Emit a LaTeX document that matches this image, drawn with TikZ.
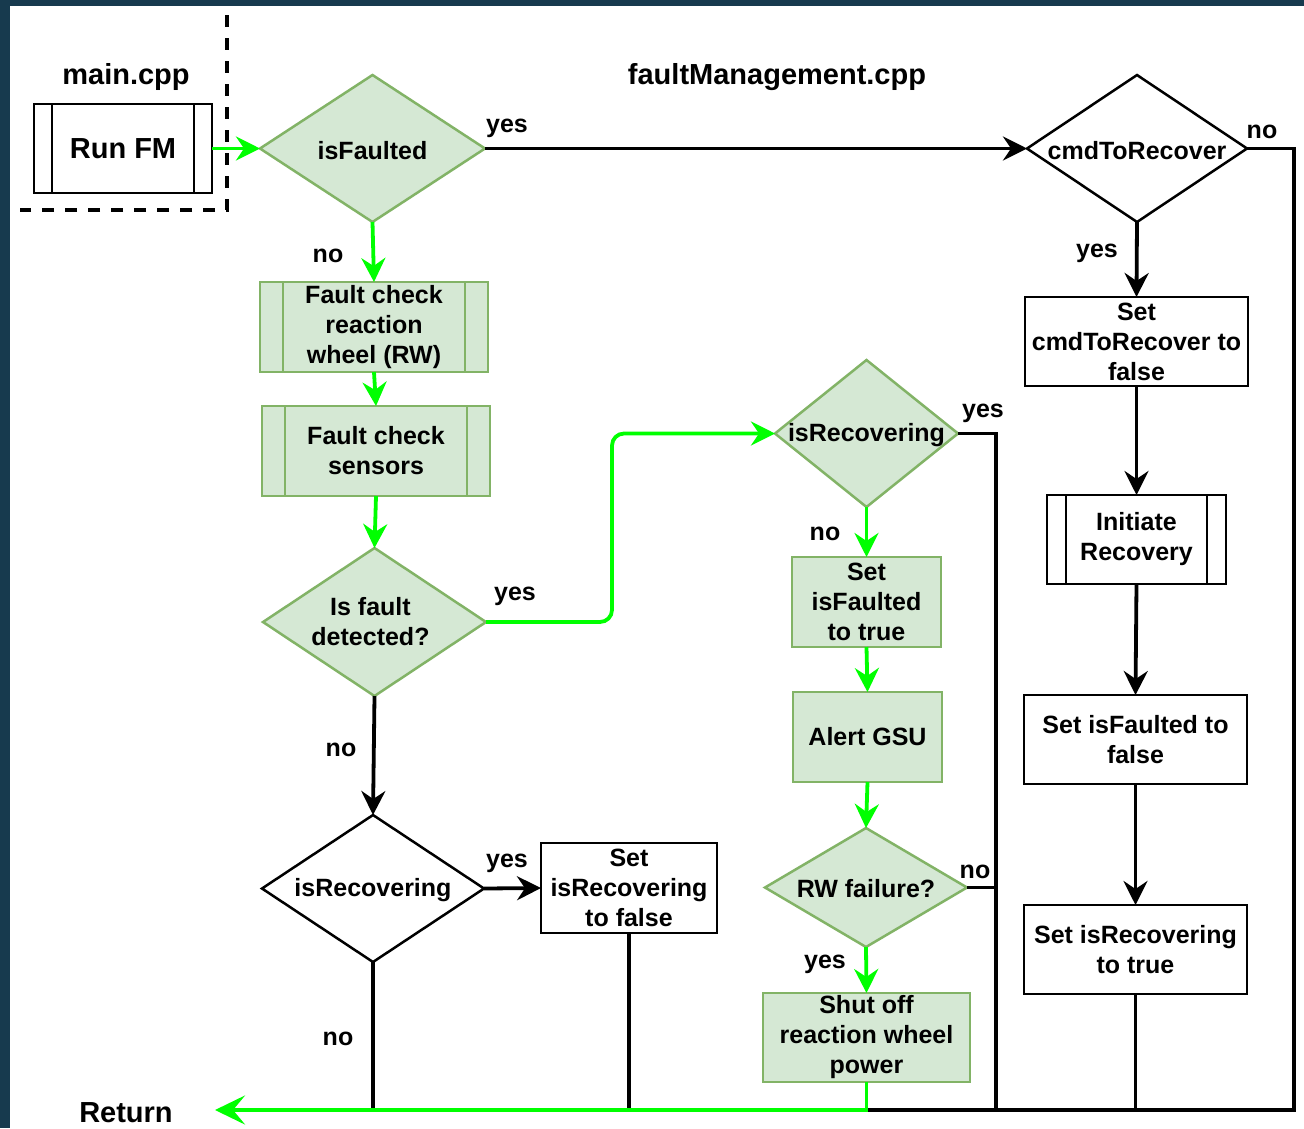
\documentclass[tikz,border=0pt]{standalone}
\usepackage{fontspec}
\setmainfont{Liberation Sans}
\usetikzlibrary{shapes.geometric,arrows.meta,calc}
\definecolor{bgdark}{HTML}{173A4E}
\definecolor{gfill}{HTML}{D5E8D4}
\definecolor{gline}{HTML}{82B366}
\definecolor{neon}{HTML}{00FF00}
\begin{document}
\begin{tikzpicture}[x=1pt,y=-1pt,
  txt/.style={font=\fontsize{25}{30}\selectfont\bfseries, align=center, inner sep=0pt, text=black},
  big/.style={font=\fontsize{29}{34}\selectfont\bfseries, inner sep=0pt, text=black, yshift=-2pt},
  wbox/.style={draw=black, fill=white, line width=2.5pt, rectangle, inner sep=0pt, outer sep=0pt, txt},
  gbox/.style={draw=gline, fill=gfill, line width=2.5pt, rectangle, inner sep=0pt, outer sep=0pt, txt},
  wdia/.style={draw=black, fill=white, diamond, line width=2.5pt, inner sep=0pt, outer sep=0pt},
  gdia/.style={draw=gline, fill=gfill, diamond, line width=2.5pt, inner sep=0pt, outer sep=0pt},
  dtxt/.style={txt, yshift=-2pt},
  blk/.style={draw=black, line width=3.8pt},
  grn/.style={draw=neon, line width=3.8pt},
  arrowsm/.style={-{Stealth[length=24pt,width=24pt,inset=8pt]}},
  arrowbig/.style={-{Stealth[length=30pt,width=29pt,inset=12pt]}},
  lbl/.style={txt, yshift=-3pt},
  barw/.style={draw=black, line width=2.5pt},
  barg/.style={draw=gline, line width=2.5pt},
]
\useasboundingbox (0,0) rectangle (1304,1128);
\fill[bgdark] (0,0) rectangle (1304,1128);
\fill[white] (10,6) rectangle (1304,1128);

% dashed boundary
\draw[line width=4pt, dash pattern=on 12pt off 11pt] (227,15) -- (227,210) -- (20,210);

% titles
\node[big] (tmain) at (126,75) {main.cpp};
\node[big] (tfm) at (777,75) {faultManagement.cpp};
\node[big] (retlbl) at (126,1111) {Return};

% nodes
\node[wbox, minimum width=178pt, minimum height=89pt, font=\fontsize{29}{34}\selectfont\bfseries] (run) at (123,148.5) {Run FM};
\draw[barw] ([xshift=18pt]run.north west) -- ([xshift=18pt]run.south west);
\draw[barw] ([xshift=-18pt]run.north east) -- ([xshift=-18pt]run.south east);

\node[gdia, minimum width=225pt, minimum height=147pt, label={[dtxt]center:isFaulted}] (isf) at (372.5,148.5) {};
\node[wdia, minimum width=220pt, minimum height=147pt, label={[dtxt]center:cmdToRecover}] (cmd) at (1137,148.5) {};

\node[gbox, minimum width=228pt, minimum height=90pt] (rw) at (374,327) {Fault check\\reaction\\wheel (RW)};
\draw[barg] ([xshift=23pt]rw.north west) -- ([xshift=23pt]rw.south west);
\draw[barg] ([xshift=-23pt]rw.north east) -- ([xshift=-23pt]rw.south east);

\node[gbox, minimum width=228pt, minimum height=90pt] (sens) at (376,451) {Fault check\\sensors};
\draw[barg] ([xshift=23pt]sens.north west) -- ([xshift=23pt]sens.south west);
\draw[barg] ([xshift=-23pt]sens.north east) -- ([xshift=-23pt]sens.south east);

\node[gdia, minimum width=223pt, minimum height=148pt, label={[txt, xshift=-4pt]center:Is fault\\detected?}] (det) at (374.5,622) {};

\node[wdia, minimum width=222pt, minimum height=147pt, label={[dtxt]center:isRecovering}] (rec2) at (373,888.5) {};
\node[wbox, minimum width=176pt, minimum height=90pt] (sirf) at (629,888) {Set\\isRecovering\\to false};

\node[gdia, minimum width=183pt, minimum height=147pt, label={[dtxt]center:isRecovering}] (rec1) at (866.5,433.5) {};
\node[gbox, minimum width=149pt, minimum height=90pt] (sift) at (866.5,602) {Set\\isFaulted\\to true};
\node[gbox, minimum width=149pt, minimum height=90pt] (alert) at (867.5,737) {Alert GSU};
\node[gdia, minimum width=202pt, minimum height=119pt, label={[txt, yshift=-1pt]center:RW failure?}] (rwf) at (866,887.5) {};
\node[gbox, minimum width=207pt, minimum height=89pt] (shut) at (866.5,1037.5) {Shut off\\reaction wheel\\power};

\node[wbox, minimum width=223pt, minimum height=89pt] (scf) at (1136.5,341.5) {Set\\cmdToRecover to\\false};
\node[wbox, minimum width=179pt, minimum height=89pt] (init) at (1136.5,539.5) {Initiate\\Recovery};
\draw[barw] ([xshift=19pt]init.north west) -- ([xshift=19pt]init.south west);
\draw[barw] ([xshift=-19pt]init.north east) -- ([xshift=-19pt]init.south east);
\node[wbox, minimum width=223pt, minimum height=89pt] (sifa) at (1135.5,739.5) {Set isFaulted to\\false};
\node[wbox, minimum width=223pt, minimum height=89pt] (sirt) at (1135.5,949.5) {Set isRecovering\\to true};

% labels
\node[lbl] (l1) at (507,125) {yes};
\node[lbl] (l2) at (1262,129) {no};
\node[lbl] (l3) at (328,253) {no};
\node[lbl] (l4) at (1097,250) {yes};
\node[lbl] (l5) at (983,410) {yes};
\node[lbl] (l6) at (515,593) {yes};
\node[lbl] (l7) at (825,531) {no};
\node[lbl] (l8) at (341,747) {no};
\node[lbl] (l9) at (507,860) {yes};
\node[lbl] (l10) at (975,869) {no};
\node[lbl] (l11) at (825,961) {yes};
\node[lbl] (l12) at (338,1036) {no};

% coordinates
\coordinate (cR) at (1294,1110);
\coordinate (cM) at (996,1110);
\coordinate (retpt) at (215,1110);

% black connectors
\draw[blk, arrowsm] (isf.east) -- (cmd.west);
\draw[blk, arrowsm] (cmd.south) -- (scf.north);
\draw[blk, arrowsm] (scf.south) -- (init.north);
\draw[blk, arrowsm] (init.south) -- (sifa.north);
\draw[blk, arrowsm] (sifa.south) -- (sirt.north);
\draw[blk, arrowsm] (det.south) -- (rec2.north);
\draw[blk, arrowsm] (rec2.east) -- (sirf.west);
\draw[blk] (cmd.east) -| (cR) -- (shut.south |- cR);
\draw[blk] (rec1.east) -| (cM);
\draw[blk] (rwf.east) -- (rwf.east -| cM);
\draw[blk] (sirt.south) -- (sirt.south |- cR);
\draw[blk] (rec2.south) -- (rec2.south |- cR);
\draw[blk] (sirf.south) -- (sirf.south |- cR);

% green connectors
\draw[grn, arrowsm] (run.east) -- (isf.west);
\draw[grn, arrowsm] (isf.south) -- (rw.north);
\draw[grn, arrowsm] (rw.south) -- (sens.north);
\draw[grn, arrowsm] (sens.south) -- (det.north);
\draw[grn, arrowsm, rounded corners=12pt] (det.east) -- ++(126,0) |- (rec1.west);
\draw[grn, arrowsm] (rec1.south) -- (sift.north);
\draw[grn, arrowsm] (sift.south) -- (alert.north);
\draw[grn, arrowsm] (alert.south) -- (rwf.north);
\draw[grn, arrowsm] (rwf.south) -- (shut.north);
\draw[grn, arrowbig] (shut.south) |- (retpt);
\end{tikzpicture}
\end{document}
